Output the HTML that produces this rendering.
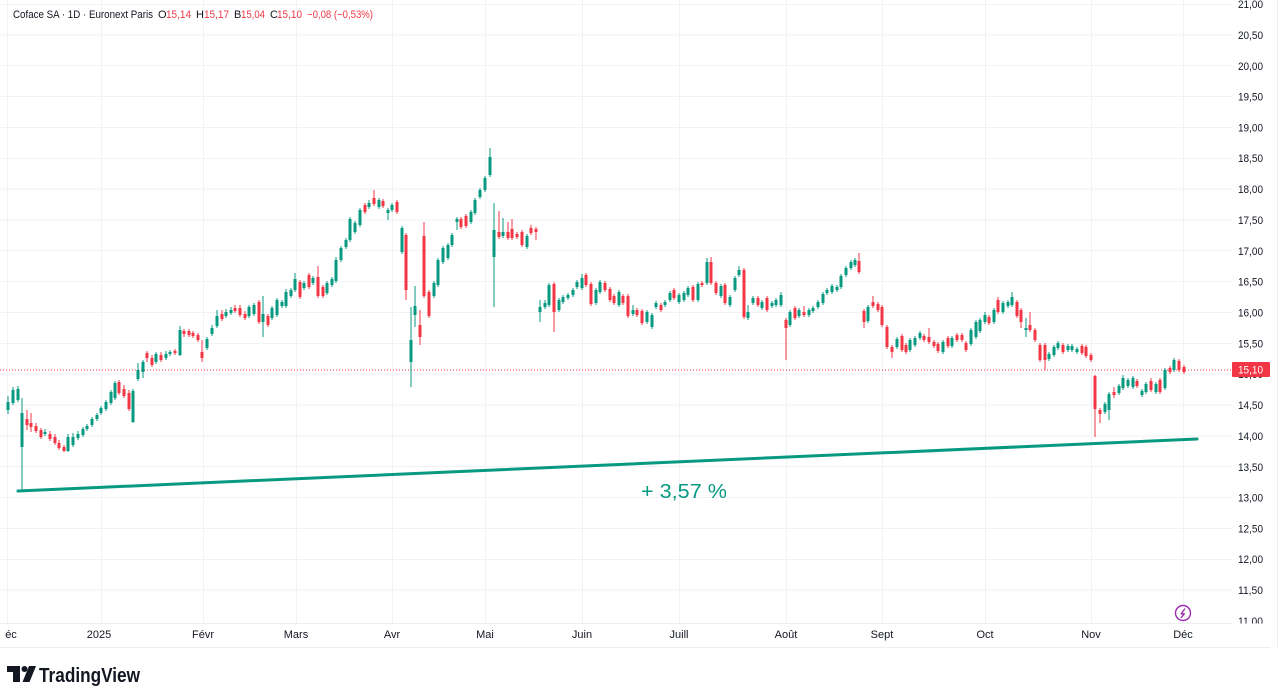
<!DOCTYPE html>
<html><head><meta charset="utf-8">
<style>
html,body{margin:0;padding:0;background:#fff;width:1280px;height:691px;overflow:hidden}
svg{display:block;font-family:"Liberation Sans",sans-serif}
</style></head><body>
<svg id="c" width="1280" height="691" viewBox="0 0 1280 691" xmlns="http://www.w3.org/2000/svg">
<rect width="1280" height="691" fill="#fff"/>
<g stroke="#f0f2f6" stroke-width="1">
<line x1="0" x2="1232" y1="4.5" y2="4.5"/><line x1="0" x2="1232" y1="35" y2="35"/><line x1="0" x2="1232" y1="65.5" y2="65.5"/><line x1="0" x2="1232" y1="96.5" y2="96.5"/><line x1="0" x2="1232" y1="127.5" y2="127.5"/><line x1="0" x2="1232" y1="158.5" y2="158.5"/><line x1="0" x2="1232" y1="189" y2="189"/><line x1="0" x2="1232" y1="220" y2="220"/><line x1="0" x2="1232" y1="250.5" y2="250.5"/><line x1="0" x2="1232" y1="281.5" y2="281.5"/><line x1="0" x2="1232" y1="312.5" y2="312.5"/><line x1="0" x2="1232" y1="343.5" y2="343.5"/><line x1="0" x2="1232" y1="374" y2="374"/><line x1="0" x2="1232" y1="405" y2="405"/><line x1="0" x2="1232" y1="436" y2="436"/><line x1="0" x2="1232" y1="466.5" y2="466.5"/><line x1="0" x2="1232" y1="497.5" y2="497.5"/><line x1="0" x2="1232" y1="528.5" y2="528.5"/><line x1="0" x2="1232" y1="559.5" y2="559.5"/><line x1="0" x2="1232" y1="590" y2="590"/>
<line x1="7.5" x2="7.5" y1="0" y2="623"/><line x1="101.5" x2="101.5" y1="0" y2="623"/><line x1="203.5" x2="203.5" y1="0" y2="623"/><line x1="296.5" x2="296.5" y1="0" y2="623"/><line x1="392.5" x2="392.5" y1="0" y2="623"/><line x1="485.5" x2="485.5" y1="0" y2="623"/><line x1="582.5" x2="582.5" y1="0" y2="623"/><line x1="679.5" x2="679.5" y1="0" y2="623"/><line x1="786.5" x2="786.5" y1="0" y2="623"/><line x1="882.5" x2="882.5" y1="0" y2="623"/><line x1="985.5" x2="985.5" y1="0" y2="623"/><line x1="1091.5" x2="1091.5" y1="0" y2="623"/><line x1="1183.5" x2="1183.5" y1="0" y2="623"/>
</g>
<line x1="0" x2="1232" y1="370" y2="370" stroke="#f23645" stroke-width="1" stroke-dasharray="1,2"/>
<g id="candles"></g>
<line x1="18" y1="491" x2="1197" y2="439" stroke="#089981" stroke-width="3" stroke-linecap="round"/>
<text x="641" y="498" font-size="20" fill="#089981" textLength="86" lengthAdjust="spacingAndGlyphs">+ 3,57 %</text>

<g font-size="11" fill="#131722">
<text x="1238" y="8" textLength="25" lengthAdjust="spacingAndGlyphs">21,00</text>
<text x="1238" y="39" textLength="25" lengthAdjust="spacingAndGlyphs">20,50</text>
<text x="1238" y="70" textLength="25" lengthAdjust="spacingAndGlyphs">20,00</text>
<text x="1238" y="100.5" textLength="25" lengthAdjust="spacingAndGlyphs">19,50</text>
<text x="1238" y="131.5" textLength="25" lengthAdjust="spacingAndGlyphs">19,00</text>
<text x="1238" y="162" textLength="25" lengthAdjust="spacingAndGlyphs">18,50</text>
<text x="1238" y="193" textLength="25" lengthAdjust="spacingAndGlyphs">18,00</text>
<text x="1238" y="224" textLength="25" lengthAdjust="spacingAndGlyphs">17,50</text>
<text x="1238" y="255" textLength="25" lengthAdjust="spacingAndGlyphs">17,00</text>
<text x="1238" y="285.5" textLength="25" lengthAdjust="spacingAndGlyphs">16,50</text>
<text x="1238" y="316.5" textLength="25" lengthAdjust="spacingAndGlyphs">16,00</text>
<text x="1238" y="347.5" textLength="25" lengthAdjust="spacingAndGlyphs">15,50</text>
<text x="1238" y="378" textLength="25" lengthAdjust="spacingAndGlyphs">15,00</text>
<text x="1238" y="409" textLength="25" lengthAdjust="spacingAndGlyphs">14,50</text>
<text x="1238" y="440" textLength="25" lengthAdjust="spacingAndGlyphs">14,00</text>
<text x="1238" y="471" textLength="25" lengthAdjust="spacingAndGlyphs">13,50</text>
<text x="1238" y="501.5" textLength="25" lengthAdjust="spacingAndGlyphs">13,00</text>
<text x="1238" y="532.5" textLength="25" lengthAdjust="spacingAndGlyphs">12,50</text>
<text x="1238" y="563" textLength="25" lengthAdjust="spacingAndGlyphs">12,00</text>
<text x="1238" y="594" textLength="25" lengthAdjust="spacingAndGlyphs">11,50</text>
<text x="1238" y="625" textLength="25" lengthAdjust="spacingAndGlyphs">11,00</text>
</g>
<rect x="1232" y="362" width="38" height="15" fill="#f23645" rx="1"/>
<text x="1238" y="373.5" font-size="11" fill="#fff" textLength="25" lengthAdjust="spacingAndGlyphs">15,10</text>

<rect x="0" y="623.5" width="1280" height="23" fill="#fff"/>
<line x1="0" x2="1232" y1="623.5" y2="623.5" stroke="#eceef2"/>
<line x1="0" x2="1270" y1="647.5" y2="647.5" stroke="#eceef2"/>
<line x1="1277.5" x2="1277.5" y1="0" y2="647" stroke="#eceef2"/>

<g font-size="11" fill="#131722" text-anchor="middle">
<text x="11" y="638">éc</text>
<text x="99" y="638">2025</text>
<text x="203" y="638">Févr</text>
<text x="296" y="638">Mars</text>
<text x="392" y="638">Avr</text>
<text x="485" y="638">Mai</text>
<text x="582" y="638">Juin</text>
<text x="679" y="638">Juill</text>
<text x="786" y="638">Août</text>
<text x="882" y="638">Sept</text>
<text x="985" y="638">Oct</text>
<text x="1091" y="638">Nov</text>
<text x="1183" y="638">Déc</text>
</g>

<circle cx="1183" cy="613" r="7.5" fill="#fff" stroke="#9c27b0" stroke-width="1.4"/>
<path d="M1185,608.5 L1181.2,613.8 L1184.3,613.8 L1181,617.8" fill="none" stroke="#9c27b0" stroke-width="1.3" stroke-linejoin="round"/>

<g font-size="11">
<text x="13" y="18" fill="#131722" textLength="140" lengthAdjust="spacingAndGlyphs">Coface SA · 1D · Euronext Paris</text>
<text x="158" y="18" fill="#131722">O</text><text x="166" y="18" fill="#f23645" textLength="25" lengthAdjust="spacingAndGlyphs">15,14</text>
<text x="196" y="18" fill="#131722">H</text><text x="204" y="18" fill="#f23645" textLength="25" lengthAdjust="spacingAndGlyphs">15,17</text>
<text x="234" y="18" fill="#131722">B</text><text x="241" y="18" fill="#f23645" textLength="24" lengthAdjust="spacingAndGlyphs">15,04</text>
<text x="270" y="18" fill="#131722">C</text><text x="277" y="18" fill="#f23645" textLength="25" lengthAdjust="spacingAndGlyphs">15,10</text>
<text x="307" y="18" fill="#f23645" textLength="66" lengthAdjust="spacingAndGlyphs">−0,08 (−0,53%)</text>
</g>

<g fill="#131722">
<rect x="7" y="666" width="13" height="6"/>
<rect x="13" y="666" width="7" height="16"/>
<circle cx="24.5" cy="669" r="3"/>
<polygon points="29,666 36,666 29.5,682 22.5,682"/>
<text x="39" y="682" font-size="20" font-weight="bold" textLength="101" lengthAdjust="spacingAndGlyphs">TradingView</text>
</g>
</svg>
<script>
(function(){
var d=[
[8,402,410,396,414,1],[13,390,403,387,405,1],[18,389,400,386,402,1],[22,413,447,398,490,1],[27,419,425,410,430,0],[31,423,427,413,432,0],[36,426,431,423,433,0],[41,430,437,428,439,0],[45,432,434,429,436,1],[50,434,439,431,441,0],[55,437,443,434,445,0],[59,443,448,440,450,0],[64,447,451,445,452,0],[68,437,451,434,452,1],[73,437,445,433,447,1],[78,434,438,431,440,1],[83,429,435,427,437,1],[87,426,429,424,431,1],[92,419,425,417,427,1],[97,415,419,413,421,1],[101,408,413,406,415,1],[106,402,409,400,411,1],[111,392,403,390,405,1],[115,383,398,381,400,1],[119,382,393,380,395,0],[124,389,396,385,398,0],[129,393,409,390,411,0],[133,391,422,389,423,1],[138,370,379,363,381,1],[143,362,372,360,378,1],[147,353,358,351,362,0],[152,358,365,355,367,0],[156,354,362,352,364,1],[161,355,360,352,362,0],[166,354,358,351,360,1],[170,352,354,350,356,1],[175,351,353,349,355,0],[180,330,355,326,356,1],[184,331,334,329,337,0],[189,331,335,329,337,0],[193,333,336,331,338,0],[198,335,340,333,342,0],[202,352,358,340,362,0],[207,339,348,337,350,1],[212,328,334,325,336,1],[217,316,326,310,328,1],[222,314,319,310,321,0],[226,312,316,309,318,1],[231,310,313,307,315,1],[235,308,311,305,313,0],[240,308,315,305,317,0],[245,314,318,311,320,0],[249,307,316,305,318,1],[254,305,314,303,316,1],[259,302,322,300,324,0],[263,314,322,296,337,1],[268,316,325,314,327,0],[272,308,318,306,320,1],[277,300,315,298,317,1],[282,302,306,300,308,1],[286,292,306,289,308,1],[291,290,296,288,298,1],[295,279,290,273,292,1],[300,282,297,280,299,0],[304,283,288,281,290,1],[309,275,287,273,289,0],[313,278,283,276,285,1],[318,277,296,266,298,0],[323,287,296,285,298,0],[327,283,293,281,295,1],[332,279,285,277,287,1],[336,260,281,257,283,1],[341,248,260,246,262,1],[346,240,247,238,249,1],[350,219,240,217,242,1],[355,223,232,221,234,1],[360,210,225,208,227,1],[365,205,212,203,214,0],[369,203,207,200,209,1],[374,198,204,190,206,0],[379,200,207,198,209,1],[383,201,206,199,208,0],[388,210,213,208,220,1],[392,205,210,203,212,1],[397,202,212,200,214,0],[402,228,252,226,254,1],[406,235,290,233,300,0],[411,340,362,307,387,1],[415,306,315,286,327,1],[420,325,337,310,345,0],[424,236,296,222,298,0],[429,292,316,290,318,0],[434,283,296,281,298,1],[438,260,285,258,287,1],[443,248,262,246,264,1],[448,245,258,243,260,1],[452,235,245,233,247,1],[457,219,222,217,230,1],[461,219,227,217,229,0],[466,216,226,214,228,0],[471,212,222,210,224,1],[475,200,213,198,215,1],[480,190,197,188,199,1],[485,178,190,176,192,1],[490,157,175,148,177,1],[494,230,257,203,307,1],[499,232,237,211,239,0],[503,232,236,218,238,1],[508,232,238,222,240,0],[512,229,238,219,240,0],[517,234,237,232,239,0],[522,232,245,230,247,0],[527,236,247,234,249,1],[531,228,233,225,235,0],[536,229,232,227,240,0],
[540,307,312,300,322,1],[545,303,307,300,309,1],[549,285,305,283,307,1],[554,284,312,282,332,0],[559,300,310,298,312,1],[563,297,302,295,304,1],[568,295,298,293,300,1],[573,290,295,288,297,1],[577,282,287,280,289,1],[582,278,288,274,290,1],[586,275,285,273,287,0],[591,284,304,282,306,0],[596,290,303,288,305,1],[600,282,292,280,294,1],[605,283,290,281,292,0],[610,289,300,287,302,0],[614,296,303,294,305,0],[619,292,305,290,307,1],[623,296,303,294,305,0],[628,296,316,294,318,0],[633,310,314,305,316,1],[637,310,315,308,317,0],[642,311,323,309,325,0],[647,312,322,310,324,1],[652,315,327,313,329,1],[656,303,307,301,309,1],[661,305,310,303,312,0],[665,302,305,300,307,1],[670,293,300,291,302,1],[674,290,298,288,300,0],[679,295,302,293,304,1],[684,293,300,291,302,1],[688,288,295,286,297,1],[693,287,300,285,302,0],[698,284,300,282,302,1],[702,283,285,281,287,0],[707,262,283,258,285,1],[711,262,283,257,285,0],[716,283,293,281,295,0],[721,286,296,284,298,1],[725,285,303,283,305,0],[730,297,305,295,307,1],[735,278,290,276,292,1],[739,270,275,266,277,1],[744,270,317,268,319,0],[748,312,318,305,320,1],[753,298,303,296,305,1],[758,298,305,296,307,0],[762,302,308,300,310,1],[767,298,310,296,312,0],[772,303,306,301,308,1],[776,300,305,298,307,1],[781,295,305,292,307,1],[786,320,328,318,360,0],[790,312,325,310,327,1],[795,308,318,306,320,0],[799,310,316,308,318,1],[804,312,315,306,317,0],[809,310,315,308,317,1],[813,308,311,306,313,1],[818,302,307,300,309,1],[823,294,303,292,305,1],[827,290,293,288,295,1],[832,286,292,284,294,1],[837,287,290,285,292,1],[841,276,287,274,289,1],[846,268,275,266,277,1],[851,262,268,260,270,1],[855,260,265,258,267,1],[859,261,272,253,274,0],
[864,311,322,309,328,0],[868,307,321,305,323,1],[873,302,306,296,308,0],[878,304,310,302,312,0],[882,307,325,305,327,0],[887,327,347,325,349,0],[892,347,352,345,358,0],[897,339,347,337,349,1],[902,336,350,334,352,0],[906,345,352,343,354,0],[910,340,350,338,352,1],[915,338,345,336,347,1],[920,333,338,331,340,1],[924,336,340,334,342,0],[929,337,342,328,344,0],[934,342,346,340,348,0],[938,344,351,342,353,0],[943,342,352,340,354,1],[948,338,346,336,348,0],[952,338,346,336,348,1],[957,335,340,333,342,0],[962,335,340,333,342,0],[966,343,350,341,352,0],[971,330,344,328,346,1],[976,322,337,320,339,1],[980,320,331,318,333,1],[985,315,322,312,324,1],[989,317,323,315,325,0],[994,310,322,308,324,1],[998,300,312,297,314,0],[1003,303,312,301,314,1],[1008,302,306,300,308,1],[1012,297,305,292,307,1],[1017,302,316,300,318,0],[1021,310,322,308,328,0],[1026,328,330,318,337,1],[1030,325,330,312,332,0],[1035,330,340,328,342,0],[1040,345,360,343,362,0],[1045,345,360,343,370,0],[1049,354,359,352,361,1],[1054,347,355,345,357,1],[1058,343,348,341,350,1],[1063,345,352,343,354,0],[1068,346,350,344,352,1],[1072,346,350,344,352,1],[1077,349,352,347,354,1],[1082,346,353,344,355,0],[1086,347,356,345,358,0],[1091,355,360,353,362,0],[1095,376,409,375,437,0],[1100,410,414,408,423,0],[1105,404,412,402,414,1],[1109,394,410,392,420,1],[1114,392,395,387,398,0],[1119,386,393,384,395,1],[1123,378,388,375,390,1],[1128,380,386,378,388,1],[1133,378,387,376,389,1],[1137,381,386,379,388,0],[1142,391,395,389,397,1],[1146,384,392,382,394,1],[1151,381,390,378,392,0],[1156,384,392,382,394,1],[1160,380,392,378,394,0],[1165,370,388,368,390,1],[1170,368,372,366,374,0],[1174,360,370,358,372,1],[1179,361,370,359,372,0],[1184,367,372,365,374,0]
];
var ns="http://www.w3.org/2000/svg",g=document.getElementById("candles");
d.forEach(function(c){
 var col=c[5]?"#089981":"#f23645";
 var w=document.createElementNS(ns,"rect");
 w.setAttribute("x",c[0]-0.5);w.setAttribute("y",c[3]);w.setAttribute("width",1);w.setAttribute("height",Math.max(1,c[4]-c[3]));w.setAttribute("fill",col);
 g.appendChild(w);
 var b=document.createElementNS(ns,"rect");
 b.setAttribute("x",c[0]-1.5);b.setAttribute("y",c[1]);b.setAttribute("width",3);b.setAttribute("height",Math.max(1,c[2]-c[1]));b.setAttribute("fill",col);
 g.appendChild(b);
});
})();
</script>
</body></html>
